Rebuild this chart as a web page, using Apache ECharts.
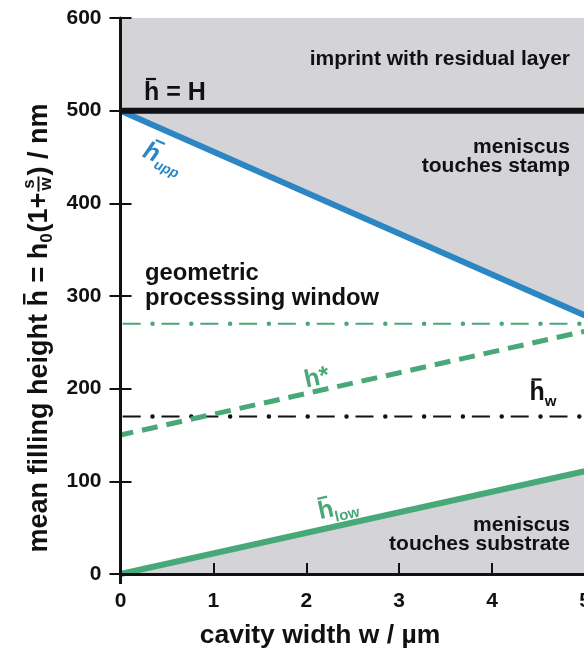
<!DOCTYPE html>
<html>
<head>
<meta charset="utf-8">
<script src="https://cdn.jsdelivr.net/npm/echarts@6/dist/echarts.min.js"></script>
<style>
  html, body { margin: 0; padding: 0; background: #fff; }
  #chart { width: 584px; height: 655px; }
</style>
</head>
<body>
<div id="chart"></div>
<script>
// Cavity width w / µm at the two ends of every straight line
const widths = [0, 5];
// Mean filling height h̄ / nm at those widths
const hBarH   = [500, 500];   // h̄ = H (stamp height)
const hUpp    = [500, 279];   // upper limit h̄_upp
const hLow    = [0, 111];     // lower limit h̄_low
const hStar   = [150, 262];   // h*
const hWindow = [270, 270];   // green dash-dot level
const hW      = [170, 170];   // h̄_w

const FONT = "'Liberation Sans', Arial, Helvetica, sans-serif";
const GRAY = '#d4d3d7';
const BLUE = '#2c86c4';
const GREEN = '#48a878';
const INK = '#111111';

const pairs = ys => widths.map((w, i) => [w, ys[i]]);

const ctx = document.createElement('canvas').getContext('2d');
function textWidth(text, size, style) {
  ctx.font = (style || 'normal') + ' bold ' + size + 'px ' + FONT;
  return ctx.measureText(text).width;
}

// One text run placed by its baseline (y) inside a group
function run(t, x, baseline, size, color, opts) {
  opts = opts || {};
  return {
    type: 'text', x: x, y: baseline - 0.35 * size, z: 20,
    style: {
      text: t, fill: color, fontSize: size, fontWeight: 'bold', fontStyle: opts.italic ? 'italic' : 'normal',
      fontFamily: FONT, textAlign: opts.align || 'left', textVerticalAlign: 'middle'
    }
  };
}
// Overbar above a lowercase h that starts at x
function hBar(x, baseline, size, color, skew) {
  const top = baseline - 0.9 * size;
  const s = skew || 0;
  return {
    type: 'line', z: 20,
    shape: { x1: x + 0.08 * size + s, y1: top, x2: x + 0.48 * size + s, y2: top },
    style: { stroke: color, lineWidth: Math.max(2, size * 0.09) }
  };
}

// Rotated y-axis title with subscript and stacked fraction, laid out along its baseline
function yTitle() {
  const big = 27, small = 17;
  const a = 'mean filling height ';
  const b = 'h = h';
  const sub = '0';
  const c = '(1+';
  const d = ') / nm';
  const xa = 0;
  const xb = xa + textWidth(a, big);
  const xs = xb + textWidth(b, big);
  const xc = xs + textWidth(sub, small) + 1;
  const xf = xc + textWidth(c, big) + 1;
  const wf = Math.max(textWidth('s', small), textWidth('w', small)) + 2;
  const xd = xf + wf + 1;
  const total = xd + textWidth(d, big);
  const children = [
    run(a, xa, 0, big, INK),
    run(b, xb, 0, big, INK),
    hBar(xb, 0, big, INK),
    run(sub, xs, 5, small, INK),
    run(c, xc, 0, big, INK),
    run('s', xf + wf / 2, -13, small, INK, { align: 'center' }),
    { type: 'line', z: 20, shape: { x1: xf, y1: -10, x2: xf + wf, y2: -10 }, style: { stroke: INK, lineWidth: 2 } },
    run('w', xf + wf / 2, 3.5, small, INK, { align: 'center' }),
    run(d, xd, 0, big, INK)
  ];
  return { type: 'group', x: 48.5, y: 328 + total / 2, rotation: Math.PI / 2, children: children };
}

// Curve label: overbarred h (or h*) plus a subscript, turned to follow its line
function curveLabel(cx, cy, deg, main, sub, color, italic, bar, big, small) {
  const st = italic ? 'italic' : 'normal';
  const wm = textWidth(main, big, st);
  const ws = sub ? textWidth(sub, small, st) : 0;
  const x0 = -(wm + ws) / 2;
  const base = 0.36 * big;
  const children = [run(main, x0, base, big, color, { italic: italic })];
  if (bar) children.push(hBar(x0, base, big, color, italic ? 0.18 * big : 0));
  if (sub) children.push(run(sub, x0 + wm, base + 0.2 * big, small, color, { italic: italic }));
  return { type: 'group', x: cx, y: cy, rotation: deg * Math.PI / 180, children: children };
}

function note(x, y, text, size, align, lineHeight) {
  return {
    type: 'text', x: x, y: y, z: 20,
    style: { text: text, fill: INK, fontSize: size, fontWeight: 'bold', fontFamily: FONT, textAlign: align, textVerticalAlign: 'middle', lineHeight: lineHeight || size }
  };
}

// "h̄ = H" written with a drawn overbar
function stampLabel(x, baseline, size) {
  return { type: 'group', x: x, y: baseline, children: [run('h = H', 0, 0, size, INK), hBar(0, 0, size, INK)] };
}

// Periodic dash-dot pattern: dashes and round dots as two strokes of one level
function dashDot(name, ys, color) {
  return [
    { name: name, type: 'line', data: pairs(ys), symbol: 'none', z: 2, silent: true,
      lineStyle: { color: color, width: 2, type: [18, 20.8], dashOffset: 36.6 } },
    { name: name + ' dots', type: 'line', data: pairs(ys), symbol: 'none', z: 2, silent: true,
      lineStyle: { color: color, width: 4.5, type: [0.01, 38.79], dashOffset: 6.8, cap: 'round' } }
  ];
}

const chart = echarts.init(document.getElementById('chart'), null, { renderer: 'canvas' });

const axisLabelStyle = { color: INK, fontSize: 21, fontWeight: 'bold', fontFamily: FONT };

chart.setOption({
  animation: false,
  backgroundColor: '#ffffff',
  grid: { left: 120.5, right: -1, top: 18, bottom: 81, containLabel: false, outerBoundsMode: 'none' },
  xAxis: [
    {
      type: 'value', min: 0, max: 5, interval: 1, z: 6,
      axisLine: { show: true, onZero: false, lineStyle: { color: INK, width: 3 } },
      axisTick: { show: true, inside: true, length: 11, lineStyle: { color: INK, width: 2 } },
      axisLabel: Object.assign({ margin: 17 }, axisLabelStyle),
      splitLine: { show: false }
    },
    {
      type: 'value', min: 0, max: 5, interval: 5, z: 6, position: 'bottom',
      axisLine: { show: false },
      axisTick: { show: true, inside: false, length: 10, lineStyle: { color: INK, width: 3 } },
      axisLabel: { show: false },
      splitLine: { show: false }
    }
  ],
  yAxis: [
    {
      type: 'value', min: 0, max: 600, interval: 100, z: 6,
      axisLine: { show: true, onZero: false, lineStyle: { color: INK, width: 3 } },
      axisTick: { show: true, inside: false, length: 11, lineStyle: { color: INK, width: 2 } },
      axisLabel: Object.assign({ margin: 19 }, axisLabelStyle),
      splitLine: { show: false }
    },
    {
      type: 'value', min: 0, max: 600, interval: 100, z: 6, position: 'left',
      axisLine: { show: false },
      axisTick: { show: true, inside: true, length: 11, lineStyle: { color: INK, width: 2 } },
      axisLabel: { show: false },
      splitLine: { show: false }
    }
  ],
  series: [
    { name: 'stamp contact', type: 'line', data: pairs(hUpp), symbol: 'none', silent: true, z: 1,
      lineStyle: { opacity: 0 }, areaStyle: { color: GRAY, opacity: 1, origin: 'end' } },
    { name: 'substrate contact', type: 'line', data: pairs(hLow), symbol: 'none', silent: true, z: 1,
      lineStyle: { opacity: 0 }, areaStyle: { color: GRAY, opacity: 1, origin: 'start' } }
  ].concat(
    dashDot('h_w', hW, INK),
    dashDot('window', hWindow, GREEN),
    [
      { name: 'h*', type: 'line', data: pairs(hStar), symbol: 'none', z: 3,
        lineStyle: { color: GREEN, width: 5, type: [16, 9], dashOffset: 3 } },
      { name: 'h_low', type: 'line', data: pairs(hLow), symbol: 'none', z: 3,
        lineStyle: { color: GREEN, width: 6 } },
      { name: 'h_upp', type: 'line', data: pairs(hUpp), symbol: 'none', z: 3,
        lineStyle: { color: BLUE, width: 6 } },
      { name: 'H', type: 'line', data: pairs(hBarH), symbol: 'none', z: 4,
        lineStyle: { color: INK, width: 6 } }
    ]
  ),
  graphic: [
    yTitle(),
    note(320, 636, 'cavity width w / \u00b5m', 26.5, 'center'),
    note(570, 59, 'imprint with residual layer', 21, 'right'),
    stampLabel(144, 101.5, 25),
    note(570, 157, 'meniscus\ntouches stamp', 21, 'right', 19),
    note(145, 286, 'geometric\nprocesssing window', 23.8, 'left', 25),
    note(570, 535, 'meniscus\ntouches substrate', 21, 'right', 19),
    curveLabel(163, 158, -24, 'h', 'upp', BLUE, true, true, 25, 14),
    curveLabel(338, 508, 12.6, 'h', 'low', GREEN, false, true, 25, 15),
    curveLabel(317, 378, 12.6, 'h*', '', GREEN, false, false, 25, 14),
    curveLabel(543, 393, 0, 'h', 'w', INK, false, true, 25, 15)
  ]
});
</script>
</body>
</html>
